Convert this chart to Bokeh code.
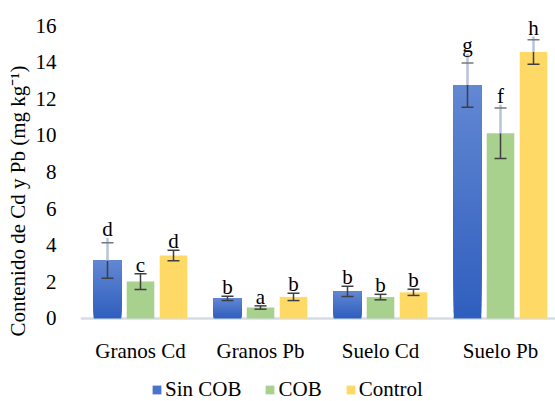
from bokeh.plotting import figure
from bokeh.models import (ColumnDataSource, FixedTicker, Legend, LegendItem,
                          Range1d, Span, Title)
from bokeh.core.properties import value
from bokeh.embed import file_html
from bokeh.resources import INLINE

# ---- data -------------------------------------------------------------
categories = ["Granos Cd", "Granos Pb", "Suelo Cd", "Suelo Pb"]
series_names = ["Sin COB", "COB", "Control"]

sin_cob = [3.17, 1.10, 1.48, 12.75]
sin_cob_err = [0.97, 0.12, 0.28, 1.21]
cob = [2.02, 0.60, 1.17, 10.12]
cob_err = [0.43, 0.09, 0.15, 1.38]
control = [3.44, 1.18, 1.43, 14.55]
control_err = [0.29, 0.20, 0.17, 0.67]

# upper end of the pale whisker extension (None = not drawn)
sin_cob_ext = [4.40, None, None, 14.46]
cob_ext = [None, None, None, 11.67]
control_ext = [None, None, None, 15.40]

sin_cob_letters = ["d", "b", "b", "g"]
cob_letters = ["c", "a", "b", "f"]
control_letters = ["d", "b", "b", "h"]

y_ticks = [0, 2, 4, 6, 8, 10, 12, 14, 16]
y_title = "Contenido de Cd y Pb (mg kg\u207b\u00b9)"

# ---- styling ----------------------------------------------------------
FONT = "Liberation Serif"
FS = "21px"
BLUE_BOTTOM = (47, 95, 190)
BLUE_TOP = (98, 135, 211)
GREEN = "#A9D18E"
YELLOW = "#FFD966"
DARK = "#3F3F3F"
PALE = "#B7C3D6"
CAP_PALE = "#777777"

BAR_W = 0.23
OFFSETS = [-0.275, 0.0, 0.275]
CAP_HALF = 0.05

# the plotting area runs over the full height; y = 0 sits 83 px above the bottom
p = figure(width=555, height=401,
           x_range=Range1d(-0.5, 3.4583), y_range=Range1d(-4.533, 17.367),
           x_axis_location=None,
           output_backend="svg", toolbar_location=None,
           min_border_left=80, min_border_right=0,
           min_border_top=0, min_border_bottom=0)
p.outline_line_color = None
p.background_fill_color = "white"
p.border_fill_color = "white"
p.xgrid.visible = False
p.ygrid.visible = False

groups = list(range(len(categories)))

# category axis line at y = 0
p.add_layout(Span(location=0, dimension="width", line_color="#D6DCE5",
                  line_width=2.5, level="underlay"))

# Sin COB: vertical gradient built from overlapping slices
N = 40
gx, gb, gt, gc = [], [], [], []
for g, v in zip(groups, sin_cob):
    for k in range(N):
        f = k / (N - 1)
        r = round(BLUE_BOTTOM[0] + (BLUE_TOP[0] - BLUE_BOTTOM[0]) * f)
        gg = round(BLUE_BOTTOM[1] + (BLUE_TOP[1] - BLUE_BOTTOM[1]) * f)
        b = round(BLUE_BOTTOM[2] + (BLUE_TOP[2] - BLUE_BOTTOM[2]) * f)
        gx.append(g + OFFSETS[0])
        gb.append(v * k / N)
        gt.append(v)
        gc.append("#%02x%02x%02x" % (r, gg, b))
r_sin = p.vbar(x="x", bottom="b", top="t", width=BAR_W, fill_color="c",
               line_color=None,
               source=ColumnDataSource(dict(x=gx, b=gb, t=gt, c=gc)))

r_cob = p.vbar(x=[g + OFFSETS[1] for g in groups], top=cob, width=BAR_W,
               fill_color=GREEN, line_color=None)
r_ctl = p.vbar(x=[g + OFFSETS[2] for g in groups], top=control, width=BAR_W,
               fill_color=YELLOW, line_color=None)

# error bars and significance letters
for off, vals, errs, exts, letters in [
        (OFFSETS[0], sin_cob, sin_cob_err, sin_cob_ext, sin_cob_letters),
        (OFFSETS[1], cob, cob_err, cob_ext, cob_letters),
        (OFFSETS[2], control, control_err, control_ext, control_letters)]:
    xs = [g + off for g in groups]
    lo = [v - e for v, e in zip(vals, errs)]
    hi = [v + e for v, e in zip(vals, errs)]
    dark_top = [v if ex is not None else h for v, h, ex in zip(vals, hi, exts)]
    p.segment(x0=xs, y0=lo, x1=xs, y1=dark_top, line_color=DARK, line_width=1.5)
    px = [x for x, ex in zip(xs, exts) if ex is not None]
    pv = [v for v, ex in zip(vals, exts) if ex is not None]
    pe = [ex for ex in exts if ex is not None]
    if px:
        p.segment(x0=px, y0=pv, x1=px, y1=pe, line_color=PALE, line_width=2.5)
    p.segment(x0=[x - CAP_HALF for x in xs], y0=lo, x1=[x + CAP_HALF for x in xs],
              y1=lo, line_color=DARK, line_width=1.5)
    cap_col = [CAP_PALE if ex is not None else DARK for ex in exts]
    p.segment(x0=[x - CAP_HALF for x in xs], y0=hi, x1=[x + CAP_HALF for x in xs],
              y1=hi, line_color=cap_col, line_width=1.5)
    tops = [max(h, ex) if ex is not None else h for h, ex in zip(hi, exts)]
    p.text(x=xs, y=tops, text=letters, text_align="center",
           text_baseline="alphabetic", y_offset=-9,
           text_font=value(FONT), text_font_size=FS, text_color="black")

# category labels under the axis line
p.text(x=groups, y=[0] * len(groups), text=categories, text_align="center",
       text_baseline="alphabetic", y_offset=33,
       text_font=value(FONT), text_font_size=FS, text_color="black")

# value axis
p.yaxis.ticker = FixedTicker(ticks=y_ticks)
p.yaxis.axis_line_color = None
p.yaxis.major_tick_line_color = None
p.yaxis.minor_tick_line_color = None
p.yaxis.major_label_standoff = 18
p.yaxis.major_label_text_font = FONT
p.yaxis.major_label_text_font_size = FS
p.yaxis.major_label_text_color = "black"

p.add_layout(Title(text=y_title, align="center", offset=-30, standoff=5,
                   text_font=FONT, text_font_size=FS, text_font_style="normal",
                   text_color="black"), "left")

legend = Legend(items=[LegendItem(label=series_names[0], renderers=[r_sin], index=N // 2),
                       LegendItem(label=series_names[1], renderers=[r_cob]),
                       LegendItem(label=series_names[2], renderers=[r_ctl])],
                location=(71, -1), orientation="horizontal",
                glyph_width=11, glyph_height=11, label_standoff=3, spacing=23,
                padding=0, margin=0, border_line_color=None,
                background_fill_alpha=0,
                label_text_font=FONT, label_text_font_size=FS,
                label_text_color="black")
p.add_layout(legend, "center")

open("out.html", "w").write(file_html(p, INLINE))
